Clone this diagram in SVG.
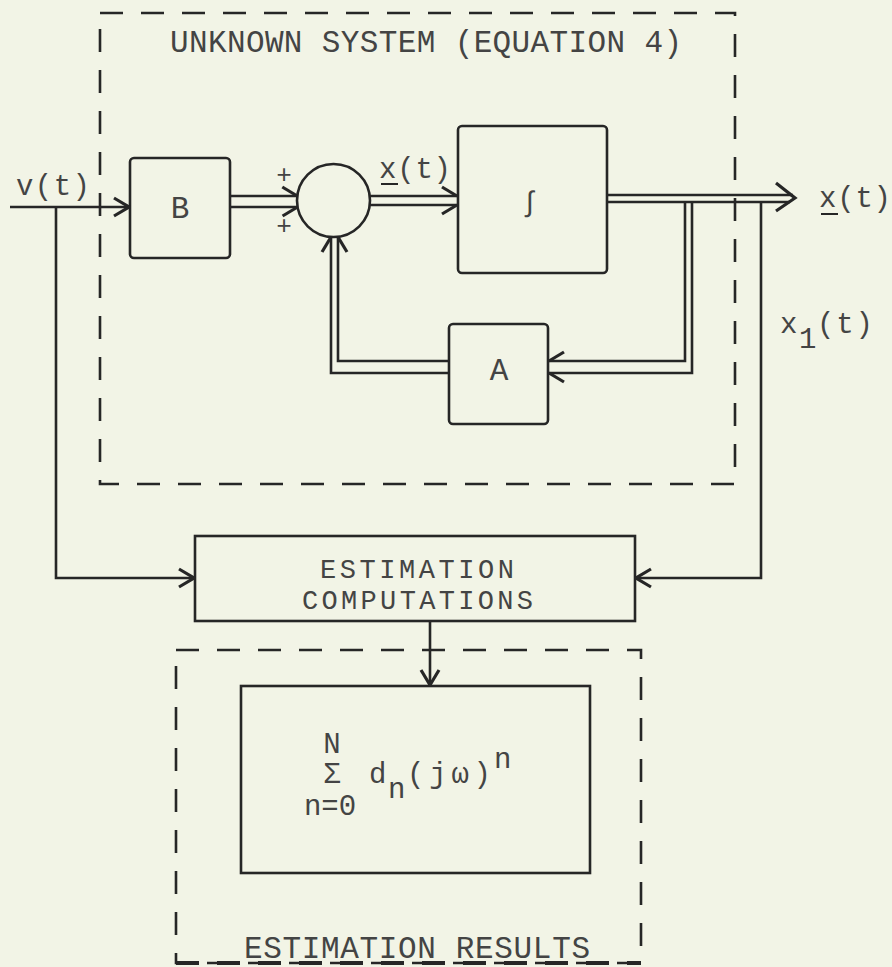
<svg xmlns="http://www.w3.org/2000/svg" width="892" height="967" viewBox="0 0 892 967">
<style>
.box{fill:none;stroke:#262626;stroke-width:2.6}
.dash{fill:none;stroke:#262626;stroke-width:2.6;stroke-dasharray:23 18}
.ln{fill:none;stroke:#262626;stroke-width:2.6}
.t{font-family:"Liberation Mono","DejaVu Sans Mono",monospace;font-size:31px;fill:#444444}
.s{font-family:"Liberation Mono","DejaVu Sans Mono",monospace;font-size:29px;fill:#444444}
.m{text-anchor:middle}
</style>
<defs>
<marker id="arr" viewBox="-17 -11 19 22" refX="0" refY="0" markerWidth="19" markerHeight="22" markerUnits="userSpaceOnUse" orient="auto">
<path d="M-15,-9 L0,0 L-15,9" fill="none" stroke="#262626" stroke-width="3.2"/>
</marker>
<marker id="arrU" viewBox="-17 -11 19 22" refX="0" refY="0" markerWidth="19" markerHeight="22" markerUnits="userSpaceOnUse" orient="auto">
<path d="M-15,-9 L0,0" fill="none" stroke="#262626" stroke-width="3.2"/>
</marker>
<marker id="arrD" viewBox="-17 -11 19 22" refX="0" refY="0" markerWidth="19" markerHeight="22" markerUnits="userSpaceOnUse" orient="auto">
<path d="M-15,9 L0,0" fill="none" stroke="#262626" stroke-width="3.2"/>
</marker>
</defs>
<rect x="0" y="0" width="892" height="967" fill="#f2f4e6"/>

<g id="unknown-system">
<rect class="dash" x="100" y="13" width="635" height="471"/>
<text class="t" x="170" y="52" textLength="512" lengthAdjust="spacing">UNKNOWN SYSTEM (EQUATION 4)</text>
</g>

<g id="B">
<rect class="box" x="130" y="158" width="100" height="100" rx="4"/>
<text class="t m" x="180" y="218">B</text>
</g>

<g id="sum">
<circle class="box" cx="333.5" cy="200.5" r="36.5"/>
<text class="s m" x="284" y="183" style="font-size:26px">+</text>
<text class="s m" x="284" y="234" style="font-size:26px">+</text>
</g>

<g id="integrator">
<rect class="box" x="458" y="126" width="149" height="147" rx="4"/>
<text class="s m" x="530" y="211" style="font-size:28px">∫</text>
</g>

<g id="A">
<rect class="box" x="449" y="324" width="99" height="100" rx="4"/>
<text class="t m" x="499" y="380">A</text>
</g>

<g id="estimation">
<rect class="box" x="195" y="536" width="440" height="85"/>
<text class="t" x="320" y="578" style="font-size:27px" textLength="194" lengthAdjust="spacing">ESTIMATION</text>
<text class="t" x="302" y="609" style="font-size:27px" textLength="231" lengthAdjust="spacing">COMPUTATIONS</text>
</g>

<g id="results">
<rect class="dash" x="176" y="650" width="465" height="313"/>
<line x1="176" y1="963" x2="641" y2="963" stroke="#262626" stroke-width="4" stroke-dasharray="23 18"/>
<rect class="box" x="241" y="686" width="349" height="187"/>
<text class="s m" x="332" y="753">N</text>
<text class="s m" x="332" y="783">Σ</text>
<text class="s m" x="330" y="815">n=0</text>
<text class="s" x="369" y="783">d</text>
<text class="s" x="388" y="798">n</text>
<text class="s" x="407" y="783" textLength="84" lengthAdjust="spacing">(jω)</text>
<text class="s" x="494" y="768">n</text>
<text class="t" x="244" y="958" textLength="346" lengthAdjust="spacing">ESTIMATION RESULTS</text>
</g>

<g id="labels">
<text class="s" x="16" y="195" textLength="74" lengthAdjust="spacing">v(t)</text>
<text class="s" x="379" y="178" textLength="72" lengthAdjust="spacing">x(t)</text>
<line class="ln" x1="381" y1="184" x2="398" y2="184" style="stroke-width:2"/>
<text class="s" x="819" y="207" textLength="72" lengthAdjust="spacing">x(t)</text>
<line class="ln" x1="821" y1="214" x2="838" y2="214" style="stroke-width:2"/>
<text class="s" x="780" y="333">x</text>
<text class="s" x="799" y="348">1</text>
<text class="s" x="817" y="333" textLength="56" lengthAdjust="spacing">(t)</text>
</g>

<g id="connectors">
<path class="ln" d="M10,207 H129" marker-end="url(#arr)"/>
<path class="ln" d="M56,207 V578 H194" marker-end="url(#arr)"/>
<path class="ln" d="M230,196 H297.3" marker-end="url(#arrU)"/>
<path class="ln" d="M230,207 H297.6" marker-end="url(#arrD)"/>
<path class="ln" d="M369.7,196 H457" marker-end="url(#arrU)"/>
<path class="ln" d="M369.3,205 H457" marker-end="url(#arrD)"/>
<path class="ln" d="M607,195 H793"/>
<path class="ln" d="M607,202 H790"/>
<path class="ln" d="M776,183 L795,198 L776,211" style="stroke-width:3.2"/>
<path class="ln" d="M685,202 V361 H549" marker-end="url(#arrD)"/>
<path class="ln" d="M692,202 V373 H549" marker-end="url(#arrU)"/>
<path class="ln" d="M449,361 H338 V237" marker-end="url(#arrD)"/>
<path class="ln" d="M449,373 H331 V237" marker-end="url(#arrU)"/>
<path class="ln" d="M761,202 V578 H636" marker-end="url(#arr)"/>
<path class="ln" d="M430,621 V685" marker-end="url(#arr)"/>
</g>
</svg>
